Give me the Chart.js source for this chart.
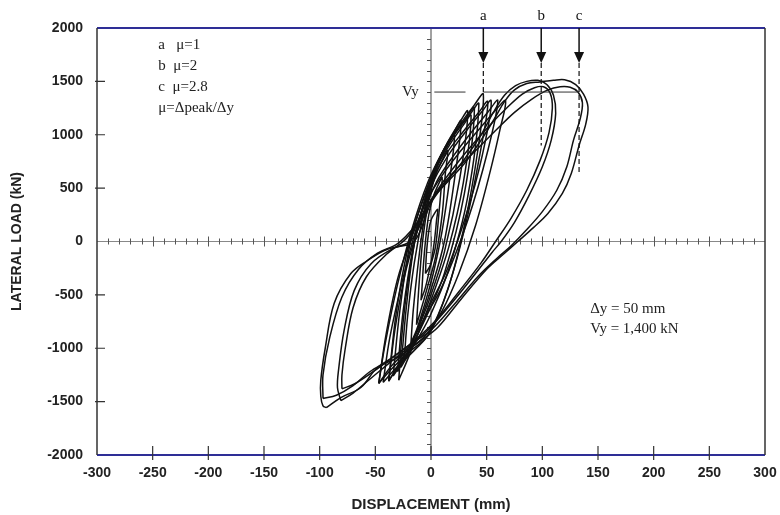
<!DOCTYPE html>
<html>
<head>
<meta charset="utf-8">
<script src="https://cdn.jsdelivr.net/npm/chart.js@4.4.0/dist/chart.umd.min.js"></script>
<style>
  html, body { margin: 0; padding: 0; background: #fff; }
</style>
</head>
<body>
<canvas id="loadChart" width="780" height="515"></canvas>
<script>
// axis ticks
const dispTicks = [-300, -250, -200, -150, -100, -50, 0, 50, 100, 150, 200, 250, 300];
const loadTicks = [-2000, -1500, -1000, -500, 0, 500, 1000, 1500, 2000];

// ductility markers (displacement mm, where the dashed guide ends in kN)
const markerLabels = ['a', 'b', 'c'];
const markerDisp = [47, 99, 133];
const markerDashEnd = [1400, 900, 650];
const yieldLoad = 1400;

const notesTopLeft = ['a   \u03bc=1', 'b  \u03bc=2', 'c  \u03bc=2.8', '\u03bc=\u0394peak/\u0394y'];
const notesRight = ['\u0394y = 50 mm', 'Vy = 1,400 kN'];

// hysteresis cycles, [displacement mm, load kN]
const cycle0 = [[-5,-300],[-2,-250],[0,-200],[3,0],[5,200],[6,300],[3,260],[0,200],[-2,100],[-4,-100],[-5,-300]];
const cycle1 = [[-9,-550],[-5,-430],[-1,-250],[4,-50],[7,250],[9,480],[10,600],[6,520],[2,420],[-2,250],[-5,0],[-7,-250],[-8,-420],[-9,-550]];
const cycle2 = [[-13,-780],[-9,-640],[-3,-420],[4,-150],[10,250],[13,650],[15,850],[10,760],[4,620],[-2,380],[-7,50],[-10,-300],[-12,-600],[-13,-780]];
const cycle3 = [[-18,-950],[-13,-830],[-6,-600],[2,-300],[10,100],[17,600],[21,1000],[15,900],[7,740],[0,520],[-7,150],[-12,-250],[-16,-650],[-18,-950]];
const cycle4 = [[-24,-1100],[-18,-980],[-10,-760],[0,-450],[12,0],[22,650],[27,1130],[21,1030],[11,850],[2,620],[-7,250],[-15,-200],[-21,-700],[-24,-1100]];
const cycle5 = [[-30,-1220],[-23,-1080],[-13,-850],[-2,-560],[12,-100],[26,600],[33,1220],[26,1120],[15,930],[4,700],[-6,380],[-16,-50],[-25,-650],[-30,-1220]];
const cycle5b = [[-27,-1180],[-20,-1050],[-10,-820],[1,-520],[16,-50],[29,550],[36,1180],[29,1090],[17,910],[5,690],[-6,370],[-15,-20],[-22,-600],[-27,-1180]];
const cycle6 = [[-38,-1300],[-28,-1150],[-16,-950],[-4,-700],[12,-300],[30,450],[39,1250],[31,1150],[18,960],[5,720],[-7,400],[-20,-30],[-31,-650],[-38,-1300]];
const cycle6b = [[-34,-1260],[-25,-1120],[-13,-930],[-1,-700],[16,-260],[33,420],[43,1290],[35,1190],[21,1000],[7,760],[-5,450],[-18,20],[-28,-650],[-34,-1260]];
const cycle7 = [[-47,-1330],[-35,-1190],[-20,-1040],[-3,-880],[15,-450],[30,150],[42,850],[47,1380],[39,1280],[25,1080],[10,830],[-3,550],[-17,120],[-30,-400],[-41,-950],[-47,-1330]];
const cycle7b = [[-43,-1320],[-31,-1180],[-15,-1020],[0,-840],[16,-420],[32,200],[45,880],[51,1310],[43,1210],[29,1030],[13,810],[0,540],[-13,130],[-26,-380],[-37,-900],[-43,-1320]];
const cycle8 = [[-29,-1300],[-22,-1130],[-13,-900],[-2,-620],[15,-250],[36,400],[49,950],[54,1320],[46,1220],[32,1040],[17,830],[3,580],[-9,250],[-18,-200],[-25,-750],[-29,-1300]];
const cycle9 = [[-38,-1310],[-29,-1150],[-18,-950],[-6,-720],[10,-420],[33,200],[51,850],[60,1320],[51,1210],[36,1020],[20,800],[5,560],[-8,230],[-22,-250],[-32,-800],[-38,-1310]];
const cycle10 = [[-47,-1330],[-35,-1160],[-20,-1010],[-5,-880],[10,-650],[25,-300],[40,150],[53,650],[62,1050],[67,1320],[58,1230],[43,1050],[26,840],[10,620],[-4,380],[-18,20],[-30,-350],[-40,-850],[-47,-1330]];
const cycle11 = [[-81,-1490],[-70,-1420],[-55,-1290],[-40,-1160],[-20,-990],[0,-800],[20,-560],[40,-300],[55,-100],[63,0],[75,180],[88,430],[100,700],[108,950],[112,1200],[110,1370],[104,1470],[96,1510],[86,1500],[76,1460],[66,1370],[56,1210],[45,1000],[30,770],[14,560],[0,360],[-15,0],[-33,-60],[-54,-210],[-69,-460],[-78,-830],[-83,-1200],[-84,-1370],[-81,-1490]];
const cycle12 = [[-80,-1380],[-68,-1330],[-52,-1220],[-35,-1090],[-15,-930],[5,-730],[25,-470],[45,-200],[58,0],[72,220],[86,480],[98,760],[106,1020],[109,1250],[107,1390],[101,1450],[93,1440],[82,1380],[68,1250],[52,1080],[35,880],[18,660],[5,470],[-8,250],[-22,30],[-40,-120],[-58,-330],[-70,-620],[-77,-1000],[-80,-1250],[-80,-1380]];
const cycle13 = [[-94,-1556],[-81,-1462],[-63,-1368],[-48,-1180],[-30,-1087],[-9,-928],[6,-806],[27,-540],[50,-260],[65,-120],[78,0],[92,130],[105,262],[118,450],[126,637],[133,900],[139,1100],[141,1260],[137,1380],[130,1470],[120,1515],[110,1510],[98,1495],[86,1480],[75,1420],[66,1310],[57,1150],[45,950],[30,730],[15,560],[0,384],[-18,9],[-42,-84],[-57,-178],[-72,-300],[-87,-581],[-95,-1000],[-99,-1300],[-99,-1450],[-97,-1540],[-94,-1556]];
const cycle14 = [[-97,-1470],[-85,-1440],[-70,-1350],[-55,-1220],[-38,-1110],[-18,-960],[0,-830],[20,-600],[42,-330],[60,-150],[72,-40],[85,100],[100,280],[113,480],[122,700],[128,950],[134,1150],[136,1300],[132,1400],[125,1445],[116,1450],[105,1420],[90,1330],[75,1210],[58,1040],[40,850],[22,670],[8,500],[-3,330],[-14,150],[-30,-20],[-48,-110],[-65,-260],[-80,-520],[-91,-900],[-97,-1250],[-97,-1470]];

const cycles = [cycle0, cycle1, cycle2, cycle3, cycle4, cycle5, cycle5b, cycle6, cycle6b, cycle7, cycle7b,
                cycle8, cycle9, cycle10, cycle11, cycle12, cycle13, cycle14];

const SANS = '"Liberation Sans", Arial, sans-serif';
const SERIF = '"Liberation Serif", "Times New Roman", serif';

// axes, frame, arrows and notes placed with the chart's own scales
const decorPlugin = {
  id: 'decor',
  beforeDatasetsDraw(chart) {
    const { ctx, chartArea: a, scales: { x, y } } = chart;
    const x0 = x.getPixelForValue(0), y0 = y.getPixelForValue(0);
    ctx.save();
    ctx.strokeStyle = '#444';
    ctx.lineWidth = 1;
    ctx.beginPath();
    ctx.moveTo(x0, a.top); ctx.lineTo(x0, a.bottom);
    ctx.stroke();
    ctx.strokeStyle = '#888';
    ctx.beginPath();
    ctx.moveTo(a.left, y0); ctx.lineTo(a.right, y0);
    ctx.stroke();
    // minor ticks on the zero axes
    ctx.strokeStyle = '#555';
    ctx.beginPath();
    for (let d = -290; d < 300; d += 10) {
      const px = Math.round(x.getPixelForValue(d)) + 0.5;
      const h = d % 50 === 0 ? 5 : 3;
      ctx.moveTo(px, y0 - h); ctx.lineTo(px, y0 + h);
    }
    for (let v = -1900; v < 2000; v += 100) {
      if (v === 0) continue;
      const py = Math.round(y.getPixelForValue(v)) + 0.5;
      ctx.moveTo(x0 - 4, py); ctx.lineTo(x0, py);
    }
    ctx.stroke();
    ctx.restore();
  },
  afterDatasetsDraw(chart) {
    const { ctx, chartArea: a, scales: { x, y } } = chart;
    ctx.save();
    // frame: blue top and bottom, dark sides
    ctx.lineWidth = 2;
    ctx.strokeStyle = '#2e2e96';
    ctx.beginPath();
    ctx.moveTo(a.left, a.top); ctx.lineTo(a.right, a.top);
    ctx.moveTo(a.left, a.bottom); ctx.lineTo(a.right, a.bottom);
    ctx.stroke();
    ctx.strokeStyle = '#333';
    ctx.lineWidth = 1.5;
    ctx.beginPath();
    ctx.moveTo(a.left, a.top); ctx.lineTo(a.left, a.bottom);
    ctx.moveTo(a.right, a.top); ctx.lineTo(a.right, a.bottom);
    ctx.stroke();
    // frame ticks pointing inward
    ctx.lineWidth = 1.2;
    ctx.beginPath();
    dispTicks.slice(1, -1).forEach(d => {
      const px = x.getPixelForValue(d);
      ctx.moveTo(px, a.bottom - 9); ctx.lineTo(px, a.bottom + 5);
    });
    loadTicks.slice(1, -1).forEach(v => {
      if (v === 0) return;
      const py = y.getPixelForValue(v);
      ctx.moveTo(a.left - 2, py); ctx.lineTo(a.left + 8, py);
    });
    ctx.stroke();

    // yield load guide
    const yy = y.getPixelForValue(yieldLoad);
    ctx.strokeStyle = '#333';
    ctx.lineWidth = 1;
    ctx.beginPath();
    ctx.moveTo(x.getPixelForValue(3), yy); ctx.lineTo(x.getPixelForValue(31), yy);
    ctx.moveTo(x.getPixelForValue(markerDisp[0]), yy); ctx.lineTo(x.getPixelForValue(markerDisp[2]), yy);
    ctx.stroke();

    // arrows a, b, c
    markerLabels.forEach((lab, i) => {
      const px = x.getPixelForValue(markerDisp[i]);
      ctx.strokeStyle = '#111';
      ctx.lineWidth = 1.5;
      ctx.beginPath();
      ctx.moveTo(px, a.top); ctx.lineTo(px, a.top + 26);
      ctx.stroke();
      ctx.fillStyle = '#111';
      ctx.beginPath();
      ctx.moveTo(px - 5, a.top + 24); ctx.lineTo(px + 5, a.top + 24); ctx.lineTo(px, a.top + 35);
      ctx.closePath();
      ctx.fill();
      ctx.lineWidth = 1.2;
      ctx.setLineDash([5, 3]);
      ctx.beginPath();
      ctx.moveTo(px, a.top + 35); ctx.lineTo(px, y.getPixelForValue(markerDashEnd[i]));
      ctx.stroke();
      ctx.setLineDash([]);
      ctx.font = '15px ' + SERIF;
      ctx.textAlign = 'center';
      ctx.textBaseline = 'alphabetic';
      ctx.fillText(lab, px, a.top - 8);
    });

    // notes
    ctx.fillStyle = '#222';
    ctx.font = '15px ' + SERIF;
    ctx.textAlign = 'left';
    ctx.textBaseline = 'middle';
    const nx = x.getPixelForValue(-245);
    const ny = y.getPixelForValue(1840);
    notesTopLeft.forEach((t, i) => ctx.fillText(t, nx, ny + i * 21));
    const rx = x.getPixelForValue(143);
    const ry = y.getPixelForValue(-630);
    notesRight.forEach((t, i) => ctx.fillText(t, rx, ry + i * 20));
    ctx.textAlign = 'right';
    ctx.fillText('Vy', x.getPixelForValue(-11), yy);
    ctx.restore();
  }
};

const datasets = cycles.map(c => ({
  data: c.map(([d, f]) => ({ x: d, y: f })),
  showLine: true,
  borderColor: '#111',
  borderWidth: 1.5,
  pointRadius: 0,
  tension: 0.35,
  fill: false
}));

new Chart(document.getElementById('loadChart'), {
  type: 'scatter',
  data: { datasets },
  options: {
    responsive: false,
    animation: false,
    layout: { padding: { top: 28, right: 15, left: 0, bottom: 0 } },
    plugins: { legend: { display: false }, tooltip: { enabled: false } },
    scales: {
      x: {
        type: 'linear', min: -300, max: 300,
        afterBuildTicks: s => { s.ticks = dispTicks.map(v => ({ value: v })); },
        afterFit: s => { s.height = 60; s.paddingLeft = 0; s.paddingRight = 0; },
        grid: { display: false, drawTicks: false },
        border: { display: false },
        ticks: { color: '#222', padding: 10, font: { family: SANS, size: 14, weight: 'bold' },
                 callback: v => String(v) },
        title: { display: true, text: 'DISPLACEMENT (mm)', color: '#222', padding: { top: 2, bottom: 1 },
                 font: { family: SANS, size: 15, weight: 'bold' } }
      },
      y: {
        type: 'linear', min: -2000, max: 2000,
        afterBuildTicks: s => { s.ticks = loadTicks.map(v => ({ value: v })); },
        afterFit: s => { s.width = 97; s.paddingTop = 0; s.paddingBottom = 0; },
        grid: { display: false, drawTicks: false },
        border: { display: false },
        ticks: { color: '#222', padding: 14, font: { family: SANS, size: 14, weight: 'bold' },
                 callback: v => String(v) },
        title: { display: true, text: 'LATERAL LOAD (kN)', color: '#222', padding: { top: 9, bottom: 0 },
                 font: { family: SANS, size: 14, weight: 'bold' } }
      }
    }
  },
  plugins: [decorPlugin]
});
</script>
</body>
</html>
